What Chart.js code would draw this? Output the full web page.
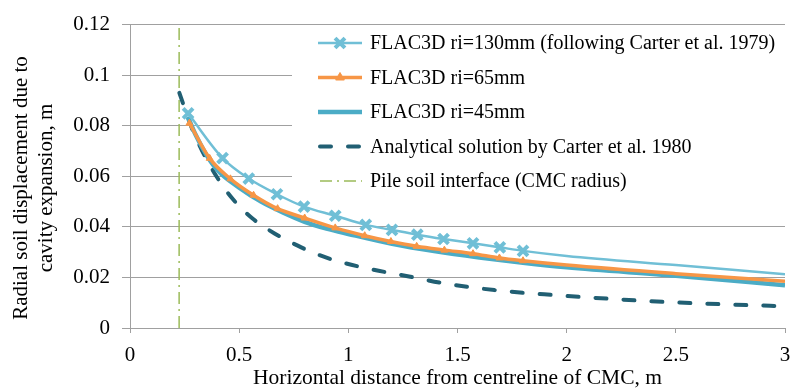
<!DOCTYPE html>
<html>
<head>
<meta charset="utf-8">
<title>Radial soil displacement</title>
<script src="https://cdn.jsdelivr.net/npm/chart.js@4.4.1/dist/chart.umd.min.js"></script>
<style>
  html, body { margin: 0; padding: 0; background: #fff; overflow: hidden; }
  #chart { display: block; }
</style>
</head>
<body>
<canvas id="chart" width="796" height="391"></canvas>
<script>
    // Data (x in m, displacement in m)
    const labels130 = 'FLAC3D ri=130mm (following Carter et al. 1979)';
    const x130 = [0.266, 0.424, 0.544, 0.673, 0.797, 0.940, 1.080, 1.200, 1.316, 1.436, 1.571, 1.694, 1.800, 2.0, 2.5, 3.0];
    const y130 = [0.0849, 0.0672, 0.0591, 0.0529, 0.0480, 0.0444, 0.0408, 0.0388, 0.0369, 0.0352, 0.0335, 0.0319, 0.0305, 0.0285, 0.0249, 0.0213];

    const labels65 = 'FLAC3D ri=65mm';
    const x65 = [0.272, 0.365, 0.460, 0.566, 0.676, 0.800, 0.940, 1.075, 1.195, 1.313, 1.440, 1.571, 1.692, 1.800, 2.0, 2.5, 3.0];
    const y65 = [0.0810, 0.0671, 0.0590, 0.0525, 0.0472, 0.0435, 0.0396, 0.0365, 0.0342, 0.0323, 0.0308, 0.0294, 0.0277, 0.0266, 0.0249, 0.0215, 0.0185];

    const labels45 = 'FLAC3D ri=45mm';
    const x45 = [0.265, 0.30, 0.35, 0.40, 0.50, 0.60, 0.70, 0.80, 0.90, 1.00, 1.20, 1.40, 1.60, 1.80, 2.00, 2.50, 3.00];
    const y45 = [0.0835, 0.0765, 0.0685, 0.0625, 0.0555, 0.0500, 0.0457, 0.0420, 0.0393, 0.0372, 0.0333, 0.0303, 0.0279, 0.0258, 0.0240, 0.0207, 0.0169];

    const labelsCarter = 'Analytical solution by Carter et al. 1980';
    const xCarter = [0.226, 0.286, 0.331, 0.398, 0.466, 0.557, 0.662, 0.782, 0.900, 1.068, 1.278, 1.430, 1.669, 1.944, 2.187, 2.450, 2.709, 3.000];
    const yCarter = [0.0930, 0.0784, 0.0700, 0.0597, 0.0515, 0.0436, 0.0374, 0.0320, 0.0278, 0.0239, 0.0204, 0.0178, 0.0150, 0.0130, 0.0116, 0.0103, 0.0094, 0.0086];

    const labelsPile = 'Pile soil interface (CMC radius)';
    const xPile = [0.225, 0.225];
    const yPile = [0, 0.12];

    const xTitle = 'Horizontal distance from centreline of CMC, m';
    const yTitleLines = ['Radial soil displacement due to', 'cavity expansion, m'];

    const serif = '"Liberation Serif", "Times New Roman", serif';
    const gridColor = '#a0a0a0';

    function toPoints(xs, ys) {
        return xs.map((x, i) => ({ x: x, y: ys[i] }));
    }

    // markers only where the model had output points (up to 1.8 m)
    function markerSize(r) {
        return ctx => (ctx.raw && ctx.raw.x <= 1.81 ? r : 0);
    }

    const fmt = v => String(+Number(v).toFixed(4));

    // Легенда внутри области графика, на белой подложке
    const boxLegend = {
        id: 'boxLegend',
        beforeDatasetsDraw(chart) {
            const c = chart.ctx;
            const area = chart.chartArea;
            c.save();
            c.fillStyle = '#fff';
            c.fillRect(292, area.top + 3, area.right - 292, 180);
            c.restore();

            const x0 = 318, x1 = 362, tx = 370;
            chart.data.datasets.forEach((ds, i) => {
                const y = 43 + i * 34.5;
                c.save();
                c.strokeStyle = ds.borderColor;
                c.lineWidth = ds.borderWidth;
                c.lineCap = ds.borderCapStyle || 'butt';
                c.setLineDash(ds.borderDash || []);
                c.beginPath();
                c.moveTo(ds.borderDash ? x0 + 2 : x0, y);
                c.lineTo(x1, y);
                c.stroke();
                c.restore();
                if (ds.legendMarker) {
                    c.save();
                    c.fillStyle = ds.pointBackgroundColor;
                    c.strokeStyle = ds.pointBorderColor;
                    c.lineWidth = ds.pointBorderWidth;
                    Chart.helpers.drawPoint(c, {
                        pointStyle: ds.pointStyle,
                        radius: ds.legendMarker,
                        borderWidth: ds.pointBorderWidth,
                        rotation: 0
                    }, (x0 + x1) / 2, y);
                    c.restore();
                }
                c.save();
                c.font = '20px ' + serif;
                c.fillStyle = '#000';
                c.textBaseline = 'middle';
                c.fillText(ds.label, tx, y + 1);
                c.restore();
            });
        }
    };

    // Подпись оси Y в две строки
    const yTitle = {
        id: 'yTitle',
        afterDraw(chart) {
            const c = chart.ctx;
            c.save();
            c.translate(21, 188);
            c.rotate(-Math.PI / 2);
            c.font = '21px ' + serif;
            c.fillStyle = '#000';
            c.textAlign = 'center';
            c.textBaseline = 'middle';
            c.fillText(yTitleLines[0], 0, 0);
            c.fillText(yTitleLines[1], 0, 25);
            c.restore();
        }
    };

    Chart.defaults.font.family = serif;
    Chart.defaults.font.size = 21;
    Chart.defaults.color = '#000';

    new Chart(document.getElementById('chart'), {
        type: 'line',
        data: {
            datasets: [{
                label: labels130,
                data: toPoints(x130, y130),
                borderColor: '#70bfd6',
                borderWidth: 2.5,
                pointStyle: 'crossRot',
                pointRadius: markerSize(7),
                pointBorderWidth: 4,
                pointBackgroundColor: '#70bfd6',
                pointBorderColor: '#70bfd6',
                legendMarker: 7,
                cubicInterpolationMode: 'monotone'
            }, {
                label: labels65,
                data: toPoints(x65, y65),
                borderColor: '#f79646',
                borderWidth: 3.5,
                pointStyle: 'triangle',
                pointRadius: markerSize(4),
                pointBorderWidth: 1,
                pointBackgroundColor: '#f79646',
                pointBorderColor: '#f79646',
                legendMarker: 5,
                cubicInterpolationMode: 'monotone'
            }, {
                label: labels45,
                data: toPoints(x45, y45),
                borderColor: '#4bacc6',
                borderWidth: 4.5,
                pointRadius: 0,
                cubicInterpolationMode: 'monotone'
            }, {
                label: labelsCarter,
                data: toPoints(xCarter, yCarter),
                borderColor: '#215f73',
                borderWidth: 4,
                borderDash: [11, 17],
                borderCapStyle: 'round',
                pointRadius: 0,
                cubicInterpolationMode: 'monotone'
            }, {
                label: labelsPile,
                data: toPoints(xPile, yPile),
                borderColor: '#9bbb59',
                borderWidth: 1.5,
                borderDash: [12, 5, 2, 5],
                pointRadius: 0
            }]
        },
        options: {
            responsive: false,
            animation: false,
            devicePixelRatio: 1,
            layout: { padding: { top: 17, right: 1, left: 0, bottom: 0 } },
            plugins: {
                legend: { display: false },
                tooltip: { enabled: false }
            },
            scales: {
                x: {
                    type: 'linear',
                    min: 0,
                    max: 3,
                    ticks: { stepSize: 0.5, padding: 10, callback: fmt, font: { size: 21 } },
                    grid: { drawOnChartArea: false, tickLength: 5, color: gridColor },
                    border: { color: gridColor },
                    title: { display: true, text: xTitle, font: { size: 21.5 }, padding: { top: 0, bottom: 0 } },
                    afterFit(scale) {
                        scale.height = 63;
                        scale.paddingLeft = 0;
                        scale.paddingRight = 0;
                    }
                },
                y: {
                    min: 0,
                    max: 0.12,
                    ticks: { stepSize: 0.02, padding: 12, callback: fmt, font: { size: 21 } },
                    grid: { color: gridColor, tickLength: 8 },
                    border: { color: gridColor },
                    afterFit(scale) {
                        scale.width = 130;
                    }
                }
            }
        },
        plugins: [boxLegend, yTitle]
    });
</script>
</body>
</html>
